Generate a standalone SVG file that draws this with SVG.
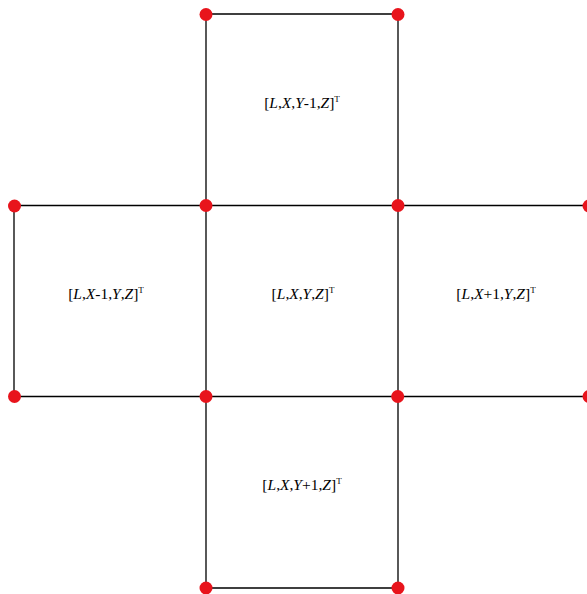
<svg xmlns="http://www.w3.org/2000/svg" width="587" height="594" viewBox="0 0 587 594">
<style>
.e{stroke:#000;stroke-width:1.3;fill:none}
.d{fill:#e8141c}
.t{font-family:"Liberation Serif","Times New Roman",serif;font-size:15.5px;fill:#000;text-anchor:middle}
.i{font-style:italic}
.s{font-size:9px}
</style>
<rect width="587" height="594" fill="#fff"/>
<g id="connectors">
<path class="e" d="M206,14H398M14,205.5H590M14,396.5H590M206,588H398"/>
<path class="e" d="M14,205.5V396.5M206,14V588M398,14V588M590,205.5V396.5"/>
</g>
<g id="node-top"><text class="t" x="302" y="108">[<tspan class="i">L</tspan>,<tspan class="i">X</tspan>,<tspan class="i">Y</tspan>-1,<tspan class="i">Z</tspan>]<tspan class="s" dy="-6">T</tspan></text></g>
<g id="node-left"><text class="t" x="106" y="299">[<tspan class="i">L</tspan>,<tspan class="i">X</tspan>-1,<tspan class="i">Y</tspan>,<tspan class="i">Z</tspan>]<tspan class="s" dy="-6">T</tspan></text></g>
<g id="node-center"><text class="t" x="303" y="299">[<tspan class="i">L</tspan>,<tspan class="i">X</tspan>,<tspan class="i">Y</tspan>,<tspan class="i">Z</tspan>]<tspan class="s" dy="-6">T</tspan></text></g>
<g id="node-right"><text class="t" x="496" y="299">[<tspan class="i">L</tspan>,<tspan class="i">X</tspan>+1,<tspan class="i">Y</tspan>,<tspan class="i">Z</tspan>]<tspan class="s" dy="-6">T</tspan></text></g>
<g id="node-bottom"><text class="t" x="302" y="490">[<tspan class="i">L</tspan>,<tspan class="i">X</tspan>,<tspan class="i">Y</tspan>+1,<tspan class="i">Z</tspan>]<tspan class="s" dy="-6">T</tspan></text></g>
<g id="dots">
<circle class="d" cx="206" cy="14.5" r="6.5"/><circle class="d" cx="398" cy="14.5" r="6.5"/>
<circle class="d" cx="14.5" cy="206" r="6.5"/><circle class="d" cx="206" cy="205.5" r="6.5"/><circle class="d" cx="398" cy="205.5" r="6.5"/><circle class="d" cx="589" cy="206" r="6.5"/>
<circle class="d" cx="14.5" cy="396.5" r="6.5"/><circle class="d" cx="206" cy="396.5" r="6.5"/><circle class="d" cx="397.7" cy="396.5" r="6.5"/><circle class="d" cx="589" cy="396.5" r="6.5"/>
<circle class="d" cx="206" cy="588" r="6.5"/><circle class="d" cx="398" cy="588" r="6.5"/>
</g>
</svg>
